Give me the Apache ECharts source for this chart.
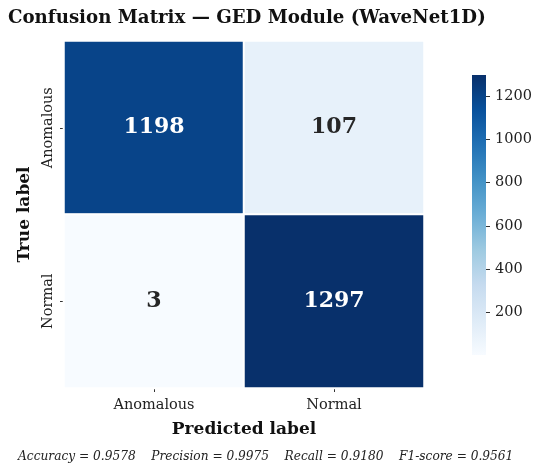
<!DOCTYPE html>
<html>
<head>
<meta charset="utf-8">
<script src="https://cdn.jsdelivr.net/npm/echarts@6/dist/echarts.min.js"></script>
<style>
  html, body { margin: 0; padding: 0; background: #fff; }
  #chart { width: 550px; height: 470px; }
</style>
</head>
<body>
<div id="chart"></div>
<script>
// confusion matrix data
var predLabels = ['Anomalous', 'Normal'];
var trueLabels = ['Anomalous', 'Normal'];
// rows = true label, cols = predicted label
var matrix = [
    [1198, 107],
    [3, 1297]
];
var cbarTicks = [200, 400, 600, 800, 1000, 1200];
var metricsText = 'Accuracy = 0.9578    Precision = 0.9975    Recall = 0.9180    F1-score = 0.9561';

var blues = ['#f7fbff', '#deebf7', '#c6dbef', '#9ecae1', '#6baed6', '#4292c6', '#2171b5', '#08519c', '#08306b'];

var vmin = Infinity, vmax = -Infinity;
var heatData = [];
for (var r = 0; r < matrix.length; r++) {
    for (var c = 0; c < matrix[r].length; c++) {
        var v = matrix[r][c];
        vmin = Math.min(vmin, v);
        vmax = Math.max(vmax, v);
        heatData.push([c, r, v]);
    }
}
var vmid = (vmin + vmax) / 2;

// colorbar gradient (top = max)
var cbarStops = blues.map(function (col, i) {
    return { offset: 1 - i / (blues.length - 1), color: col };
});

var serif = 'DejaVu Serif';
var chart = echarts.init(document.getElementById('chart'));
var option = {
    backgroundColor: '#fff',
    animation: false,
    title: {
        text: 'Confusion Matrix \u2014 GED Module (WaveNet1D)',
        left: 3,
        top: 4,
        textStyle: { fontFamily: serif, fontWeight: 'bold', fontSize: 18.2, color: '#111' }
    },
    grid: [
        { left: 64, top: 41, width: 360, height: 347 },
        { left: 472, top: 75, width: 14, height: 280 }
    ],
    xAxis: [{
        type: 'category',
        gridIndex: 0,
        data: predLabels,
        name: 'Predicted label',
        nameLocation: 'middle',
        nameGap: 33,
        nameTextStyle: { fontFamily: serif, fontWeight: 'bold', fontSize: 17, color: '#111' },
        axisLine: { show: false },
        axisTick: { show: true, alignWithLabel: true, length: 4, lineStyle: { color: '#333' } },
        axisLabel: { fontFamily: serif, fontSize: 14.5, color: '#222', margin: 10 },
        splitLine: { show: false }
    }, {
        type: 'category',
        gridIndex: 1,
        data: ['cbar'],
        show: false
    }],
    yAxis: [{
        type: 'category',
        gridIndex: 0,
        data: trueLabels,
        inverse: true,
        name: 'True label',
        nameLocation: 'middle',
        nameGap: 30,
        nameTextStyle: { fontFamily: serif, fontWeight: 'bold', fontSize: 17, color: '#111' },
        axisLine: { show: false },
        axisTick: { show: true, alignWithLabel: true, length: 4, lineStyle: { color: '#333' } },
        axisLabel: { fontFamily: serif, fontSize: 14.5, color: '#222', rotate: 90, margin: 8 },
        splitLine: { show: false }
    }, {
        type: 'value',
        gridIndex: 1,
        position: 'right',
        min: vmin,
        max: vmax,
        axisLine: { show: false },
        axisTick: { show: true, length: 4, customValues: cbarTicks, lineStyle: { color: '#333' } },
        axisLabel: {
            fontFamily: serif, fontSize: 14.5, color: '#222', margin: 9,
            customValues: cbarTicks,
            formatter: function (v) { return String(v); }
        },
        splitLine: { show: false }
    }],
    visualMap: {
        type: 'continuous',
        show: false,
        min: vmin,
        max: vmax,
        seriesIndex: 0,
        inRange: { color: blues }
    },
    graphic: [{
        type: 'text',
        left: 18,
        top: 451,
        style: {
            text: metricsText,
            font: 'italic 12.2px "DejaVu Serif"',
            fill: '#222'
        }
    }],
    series: [{
        type: 'heatmap',
        xAxisIndex: 0,
        yAxisIndex: 0,
        data: heatData.map(function (d) {
            return {
                value: d,
                label: { color: d[2] > vmid ? '#ffffff' : '#262626' }
            };
        }),
        itemStyle: { borderColor: '#fff', borderWidth: 2 },
        label: {
            show: true,
            fontFamily: serif,
            fontWeight: 'bold',
            fontSize: 22,
            formatter: function (p) { return p.value[2]; }
        },
        emphasis: { disabled: true }
    }, {
        // colorbar
        type: 'bar',
        xAxisIndex: 1,
        yAxisIndex: 1,
        data: [vmax],
        barWidth: '100%',
        silent: true,
        itemStyle: {
            color: new echarts.graphic.LinearGradient(0, 0, 0, 1, cbarStops)
        }
    }]
};
chart.setOption(option);
</script>
</body>
</html>
